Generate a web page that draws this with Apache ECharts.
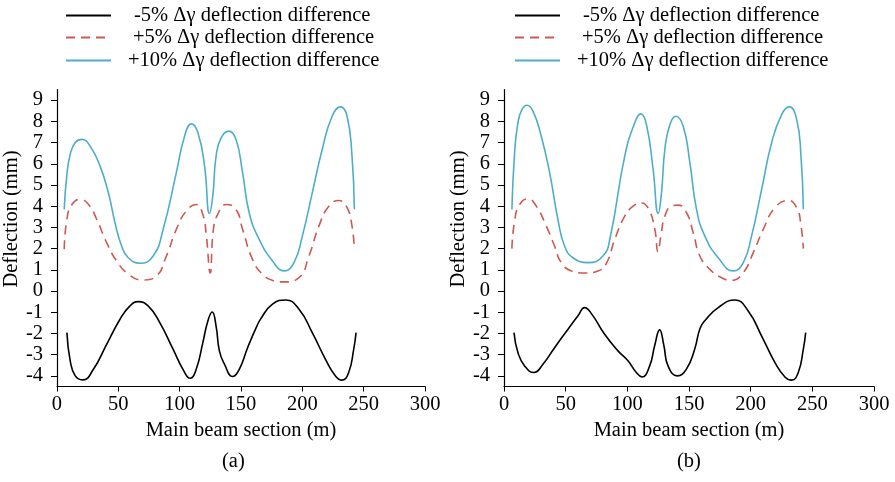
<!DOCTYPE html>
<html>
<head>
<meta charset="utf-8">
<title>Deflection difference</title>
<script src="https://cdn.jsdelivr.net/npm/echarts@6/dist/echarts.min.js"></script>
<style>
  html, body { margin: 0; padding: 0; background: #fff; }
  #main { width: 895px; height: 482px; }
</style>
</head>
<body>
<div id="main"></div>
<script>
// series names
var seriesNames = [
  "-5% \u0394\u03b3 deflection difference",
  "+5% \u0394\u03b3 deflection difference",
  "+10% \u0394\u03b3 deflection difference"
];

var yTicks = [-4, -3, -2, -1, 0, 1, 2, 3, 4, 5, 6, 7, 8, 9];
var captions = ["(a)", "(b)"];

// chart (a) -- [section (m), deflection (mm)]
var aMinus5 = [[8.1,-1.96],[10.8,-3.29],[14.9,-4.0],[21.1,-4.19],[29.7,-3.69],[40.5,-2.51],[51.4,-1.33],[59.5,-0.7],[66.2,-0.5],[74.3,-0.7],[83.8,-1.49],[94.6,-2.74],[102.7,-3.69],[108.6,-4.11],[113.5,-3.69],[118.9,-2.43],[123,-1.41],[126.5,-0.99],[129.7,-1.65],[132.4,-2.82],[136.5,-3.45],[143.2,-4.03],[148.6,-3.69],[155.4,-2.67],[162.2,-1.75],[166.2,-1.3],[175.7,-0.62],[186.5,-0.42],[197.3,-0.86],[208.1,-1.96],[218.9,-3.22],[227,-4.0],[232.4,-4.2],[237.8,-3.84],[241.9,-2.74],[243.8,-1.96]];
var aPlus5 = [[5.9,1.97],[8.1,3.38],[12.2,4.08],[18.9,4.32],[25.7,4.08],[32.4,3.38],[40.5,2.28],[48.6,1.42],[58.1,0.8],[70,0.52],[81,0.71],[89.2,1.65],[97.3,2.91],[105.4,3.77],[113.5,4.08],[118.9,3.61],[121.6,2.7],[124.9,0.85],[127.5,2.9],[131,3.61],[137.8,4.08],[145.9,3.85],[151.3,2.91],[159.4,1.49],[167.5,0.79],[176,0.5],[185.1,0.43],[197.3,0.63],[205.4,1.65],[213.5,3.06],[221.6,4.0],[229.7,4.27],[236.5,3.93],[240.5,3.06],[242.4,2.0]];
var aPlus10 = [[5.9,3.85],[8.1,5.5],[10.8,6.44],[14.9,7.0],[20.3,7.15],[27,6.83],[35.1,5.89],[41.9,4.63],[47.3,3.22],[52.7,2.12],[58.1,1.57],[67.6,1.31],[78.4,1.65],[86.5,2.9],[97.3,5.58],[104,7.3],[109.5,7.88],[114.9,7.46],[120.3,5.89],[124.3,3.66],[127,4.48],[129.7,6.36],[133.8,7.22],[140,7.54],[145.9,7.15],[151.3,5.58],[156.7,3.69],[164.8,2.44],[175.7,1.42],[185.1,0.95],[193.2,1.34],[200,2.59],[208.1,4.63],[216.2,6.67],[224.3,8.24],[231.1,8.68],[236.5,8.24],[240.5,6.36],[242.4,3.85]];

// chart (b)
var bMinus5 = [[8.1,-1.96],[11.3,-2.9],[16.7,-3.53],[24.3,-3.84],[31.6,-3.45],[41,-2.67],[51.9,-1.8],[60,-1.17],[65.4,-0.78],[71.3,-1.1],[81.6,-2.04],[92.4,-2.82],[100.5,-3.29],[107.3,-3.84],[111.9,-4.05],[118.1,-3.53],[122.1,-2.59],[126.2,-1.83],[129.7,-2.59],[133,-3.53],[140.5,-4.0],[147.8,-3.69],[154.6,-2.74],[159,-1.75],[163.5,-1.35],[173.7,-0.78],[187.2,-0.42],[198,-0.94],[208.9,-2.12],[219.7,-3.37],[227.8,-4.05],[233.2,-4.2],[238.6,-3.84],[242.7,-2.74],[244.6,-1.96]];
var bPlus5 = [[6.4,2.0],[8.6,3.3],[12.7,4.08],[19.4,4.35],[26.2,4.0],[34.3,3.06],[41,2.12],[46.4,1.34],[54.6,0.95],[65.4,0.85],[76.2,0.95],[83,1.3],[89.8,2.44],[97.9,3.53],[104.7,4.0],[111.5,4.15],[117.4,3.85],[122.3,2.91],[124.8,1.85],[127.2,2.59],[130.4,3.53],[135.8,4.0],[141.2,4.05],[148,3.69],[153.4,2.75],[158.8,1.65],[166.9,1.02],[176.4,0.63],[184.5,0.5],[194,0.87],[202.1,1.81],[210.2,2.91],[219.7,3.93],[230.5,4.27],[237.3,3.93],[240.5,3.22],[242.7,2.0]];
var bPlus10 = [[6.4,3.85],[8.6,6.52],[11.3,7.93],[14.6,8.56],[18.6,8.76],[23.5,8.48],[30.2,7.3],[37,5.58],[43.7,3.38],[49.1,2.12],[55.9,1.57],[68.1,1.34],[80.2,1.65],[86,2.5],[97.9,6.36],[106,7.93],[110.9,8.35],[115.5,7.85],[120.9,5.73],[125,3.66],[127.7,4.63],[130.4,6.67],[134.5,7.85],[139.3,8.24],[145.3,7.77],[150.7,6.05],[156.1,3.85],[162.9,2.59],[173.7,1.57],[185.9,0.95],[194,1.34],[200.7,2.59],[208.9,4.79],[217,6.99],[225.1,8.32],[231.3,8.68],[237.3,8.09],[240.8,6.36],[242.7,3.85]];

var FONT = "Liberation Serif";
var FS = 20.5;
var colors = ["#000000", "#cd5a52", "#4eaec9"];
var dashes = ["solid", [9, 6], "solid"];

var chart = echarts.init(document.getElementById("main"));

var gridLefts = [55, 504];
var captionLefts = [222, 677];

function makeSeries(data, idx, k) {
  return {
    name: seriesNames[k],
    type: "line",
    xAxisIndex: idx,
    yAxisIndex: idx,
    data: data,
    smooth: 0.5,
    symbol: "none",
    lineStyle: { color: colors[k], width: 1.6, type: dashes[k] },
    itemStyle: { color: colors[k] },
    animation: false
  };
}

var grids = [], xAxes = [], yAxes = [], legends = [], graphics = [];
// legend text offsets, roughly centred like the original
var legendTops = [5, 27, 50];
var legendPad = [18, 17, 12];

gridLefts.forEach(function (left, i) {
  grids.push({ left: left, width: 370, top: 89.5, height: 297 });
  xAxes.push({
    gridIndex: i,
    type: "value",
    min: 0,
    max: 300,
    interval: 50,
    name: "Main beam section (m)",
    nameLocation: "middle",
    nameGap: 32,
    nameTextStyle: { color: "#000", fontFamily: FONT, fontSize: FS },
    axisLine: { onZero: false, lineStyle: { color: "#000", width: 1.2 } },
    axisTick: { length: 5, lineStyle: { color: "#000" } },
    axisLabel: { color: "#000", fontFamily: FONT, fontSize: FS, margin: 8 },
    splitLine: { show: false }
  });
  yAxes.push({
    gridIndex: i,
    type: "value",
    min: -4.5,
    max: 9.5,
    name: "Deflection (mm)",
    nameLocation: "middle",
    nameGap: 26,
    nameTextStyle: { color: "#000", fontFamily: FONT, fontSize: FS, padding: [0, 0, 0, 38] },
    axisLine: { show: true, lineStyle: { color: "#000", width: 1.2 } },
    axisTick: { show: true, length: 6, customValues: yTicks, lineStyle: { color: "#000" } },
    axisLabel: { customValues: yTicks, color: "#000", fontFamily: FONT, fontSize: FS, margin: 14 },
    splitLine: { show: false }
  });
  seriesNames.forEach(function (nm, k) {
    legends.push({
      data: [nm],
      left: left + 10,
      top: legendTops[k],
      padding: 0,
      itemWidth: 45,
      itemHeight: 14,
      selectedMode: false,
      itemStyle: { opacity: 0 },
      textStyle: { color: "#000", fontFamily: FONT, fontSize: FS, padding: [0, 0, 0, legendPad[k]] }
    });
  });
  graphics.push({
    type: "text",
    left: captionLefts[i],
    top: 451,
    style: { text: captions[i], fill: "#000", font: FS + "px '" + FONT + "'" }
  });
});

var series = [
  makeSeries(aMinus5, 0, 0),
  makeSeries(aPlus5, 0, 1),
  makeSeries(aPlus10, 0, 2),
  makeSeries(bMinus5, 1, 0),
  makeSeries(bPlus5, 1, 1),
  makeSeries(bPlus10, 1, 2)
];

chart.setOption({
  backgroundColor: "#fff",
  animation: false,
  grid: grids,
  xAxis: xAxes,
  yAxis: yAxes,
  legend: legends,
  graphic: graphics,
  series: series
});
</script>
</body>
</html>
